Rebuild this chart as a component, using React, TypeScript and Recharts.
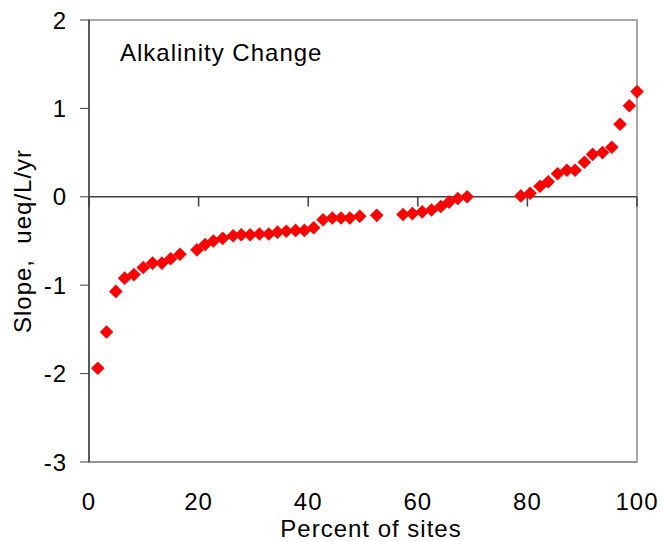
import { ScatterChart, Scatter, XAxis, YAxis, ReferenceLine, ReferenceArea } from 'recharts'

// percent of sites (x) and alkalinity slope, ueq/L/yr (y)
const pct = [
  1.6, 3.2, 4.9, 6.5, 8.2, 9.9, 11.6, 13.3, 14.9, 16.6,
  19.7, 21.2, 22.7, 24.4, 26.3, 27.8, 29.4, 31.1, 32.8, 34.4,
  36.0, 37.7, 39.3, 41.0, 42.7, 44.4, 46.0, 47.6, 49.4, 52.5,
  57.3, 59.0, 60.8, 62.5, 64.2, 65.7, 67.3, 69.0,
  78.8, 80.5, 82.3, 83.8, 85.5, 87.2, 88.7, 90.4, 91.9, 93.7, 95.4, 96.9, 98.6, 100,
]
const slope = [
  -1.94, -1.53, -1.07, -0.92, -0.88, -0.80, -0.75, -0.75, -0.70, -0.65,
  -0.60, -0.54, -0.50, -0.47, -0.44, -0.43, -0.43, -0.42, -0.42, -0.40,
  -0.39, -0.38, -0.38, -0.35, -0.26, -0.24, -0.24, -0.24, -0.22, -0.21,
  -0.20, -0.19, -0.17, -0.15, -0.11, -0.06, -0.02, 0.00,
  0.01, 0.04, 0.12, 0.17, 0.26, 0.30, 0.30, 0.39, 0.48, 0.50, 0.56, 0.82, 1.03, 1.19,
]
const xTicks = [0, 20, 40, 60, 80, 100]
const yTicks = [-3, -2, -1, 0, 1, 2]

const data = pct.map((x, i) => ({ x, y: slope[i] }))

const font = '"Liberation Sans", Arial, sans-serif'
const tickStyle = { fontSize: 24, fill: '#000', fontFamily: font, letterSpacing: 1 }

const Diamond = (props: any) => {
  const { cx, cy } = props
  const r = 6.8
  return (
    <polygon
      points={`${cx},${cy - r} ${cx + r},${cy} ${cx},${cy + r} ${cx - r},${cy}`}
      fill="#ff0000"
    />
  )
}

export default function App() {
  return (
    <div style={{ position: 'absolute', left: 0, top: 0, fontFamily: font }}>
      <ScatterChart width={662} height={541} margin={{ top: 20, right: 25, bottom: 0, left: 0 }}>
        <ReferenceArea x1={0} x2={100} y1={-3} y2={2} fill="none" stroke="#8c8c8c" strokeWidth={1.5} ifOverflow="visible" />
        <XAxis
          type="number" dataKey="x" domain={[0, 100]} ticks={xTicks} interval={0}
          height={79} tickLine={false} tickSize={0} tickMargin={31}
          axisLine={{ stroke: '#8c8c8c', strokeWidth: 1.5 }} tick={tickStyle}
          label={{ value: 'Percent of sites', position: 'insideBottom', offset: 4, dx: 8, style: { ...tickStyle, textAnchor: 'middle' } }}
        />
        <YAxis
          type="number" dataKey="y" domain={[-3, 2]} ticks={yTicks} interval={0}
          width={89} tickSize={9} tickMargin={13}
          axisLine={{ stroke: '#404040', strokeWidth: 1.5 }} tickLine={{ stroke: '#404040' }} tick={tickStyle}
          label={{ value: 'Slope,\u00a0 ueq/L/yr', angle: -90, position: 'insideLeft', offset: 22, style: { ...tickStyle, textAnchor: 'middle' } }}
        />
        <ReferenceLine y={0} stroke="#404040" strokeWidth={1.5} />
        {xTicks.map((t) => (
          <ReferenceLine key={t} segment={[{ x: t, y: 0 }, { x: t, y: -0.11 }]} stroke="#404040" strokeWidth={1.5} />
        ))}
        <Scatter data={data} shape={Diamond} isAnimationActive={false} />
        <text x={120} y={61} fontSize={24} fontFamily={font} letterSpacing={1} fill="#000">Alkalinity Change</text>
      </ScatterChart>
    </div>
  )
}
